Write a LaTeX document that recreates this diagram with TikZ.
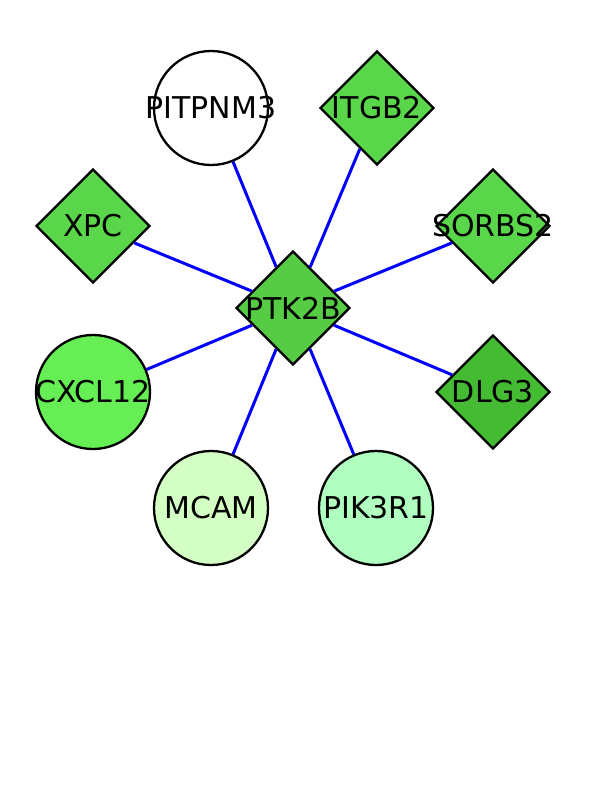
\documentclass[tikz,border=0pt]{standalone}
\usepackage{fontspec}
\setmainfont{DejaVu Sans}
\usepackage{tikz}
\usetikzlibrary{shapes.geometric}
\definecolor{cverde}{HTML}{5AD64A}
\definecolor{cnodo}{HTML}{55CC44}
\definecolor{coscuro}{HTML}{44BB33}
\definecolor{cclaro}{HTML}{66EE55}
\definecolor{cpalido}{HTML}{D4FFC4}
\definecolor{cmenta}{HTML}{B0FFC0}
\definecolor{cazul}{HTML}{0000FF}
\tikzset{
  etq/.style={font=\fontsize{30}{32}\selectfont, text=black, inner sep=0pt},
  circ/.style={circle, draw=black, line width=2.3pt, minimum size=114pt, inner sep=0pt},
  romb/.style={diamond, draw=black, line width=2.3pt, minimum size=114pt, inner sep=0pt},
  arista/.style={draw=cazul, line width=3pt},
}
\begin{document}
\begin{tikzpicture}[x=1pt,y=-1pt]
  \useasboundingbox[fill=white] (0,0) rectangle (612,792);
  \node[romb, fill=cnodo, label={[etq]center:PTK2B}] (ptk) at (293,308) {};
  \node[circ, fill=white, label={[etq]center:PITPNM3}] (pit) at (211,108) {};
  \node[romb, fill=cverde, label={[etq]center:ITGB2}] (itg) at (377,108) {};
  \node[romb, fill=cverde, label={[etq]center:XPC}] (xpc) at (93,226) {};
  \node[romb, fill=cverde, label={[etq]center:SORBS2}] (sor) at (493,226) {};
  \node[circ, fill=cclaro, label={[etq]center:CXCL12}] (cxc) at (93,392) {};
  \node[romb, fill=coscuro, label={[etq]center:DLG3}] (dlg) at (493,392) {};
  \node[circ, fill=cpalido, label={[etq]center:MCAM}] (mca) at (211,508) {};
  \node[circ, fill=cmenta, label={[etq]center:PIK3R1}] (pik) at (376,508) {};
  \foreach \n in {pit,itg,xpc,sor,cxc,dlg,mca,pik}
    \draw[arista] (ptk)--(\n);
\end{tikzpicture}
\end{document}
